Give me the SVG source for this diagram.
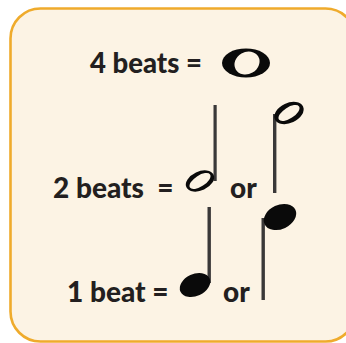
<svg xmlns="http://www.w3.org/2000/svg" width="346" height="343" viewBox="0 0 346 343">
  <style>
    .lbl { font-family: Lato, "Liberation Sans", sans-serif; font-weight: 900; fill: #231f20; }
    .ink { fill: #0a0a0a; }
    .hole { fill: #fcf3e4; }
    .stem { fill: #3a3838; }
  </style>
  <!-- card background -->
  <rect x="10.5" y="8.5" width="345" height="333" rx="30" ry="30" fill="#fcf3e4" stroke="#efab2c" stroke-width="2.6"/>

  <!-- row: whole note -->
  <g id="row-whole">
    <text class="lbl" x="90" y="73" font-size="27.5">4 beats =</text>
    <ellipse class="ink" cx="246" cy="63" rx="24" ry="14.5"/>
    <ellipse class="hole" cx="247" cy="63" rx="13" ry="11" transform="rotate(-30 247 63)"/>
  </g>

  <!-- row: half notes -->
  <g id="row-half">
    <text class="lbl" x="53" y="198" font-size="28" xml:space="preserve">2 beats  =</text>
    <rect class="stem" x="213.5" y="105" width="3.2" height="76"/>
    <ellipse class="ink" cx="200" cy="181" rx="15" ry="9.5" transform="rotate(-25 200 181)"/>
    <ellipse class="hole" cx="200" cy="181" rx="12" ry="5.5" transform="rotate(-33 200 181)"/>
    <text class="lbl" x="230" y="198" font-size="28">or</text>
    <rect class="stem" x="273" y="114" width="3.4" height="79"/>
    <ellipse class="ink" cx="289" cy="113" rx="15.5" ry="10" transform="rotate(-25 289 113)"/>
    <ellipse class="hole" cx="289" cy="113" rx="12" ry="5.5" transform="rotate(-33 289 113)"/>
  </g>

  <!-- row: quarter notes -->
  <g id="row-quarter">
    <text class="lbl" x="67" y="302" font-size="28">1 beat =</text>
    <rect class="stem" x="207.5" y="207" width="3.4" height="76"/>
    <ellipse class="ink" cx="195" cy="285" rx="16" ry="11" transform="rotate(-25 195 285)"/>
    <text class="lbl" x="223" y="302" font-size="28">or</text>
    <rect class="stem" x="261.5" y="218" width="3.4" height="82"/>
    <ellipse class="ink" cx="280" cy="217" rx="17" ry="12" transform="rotate(-25 280 217)"/>
  </g>
</svg>
